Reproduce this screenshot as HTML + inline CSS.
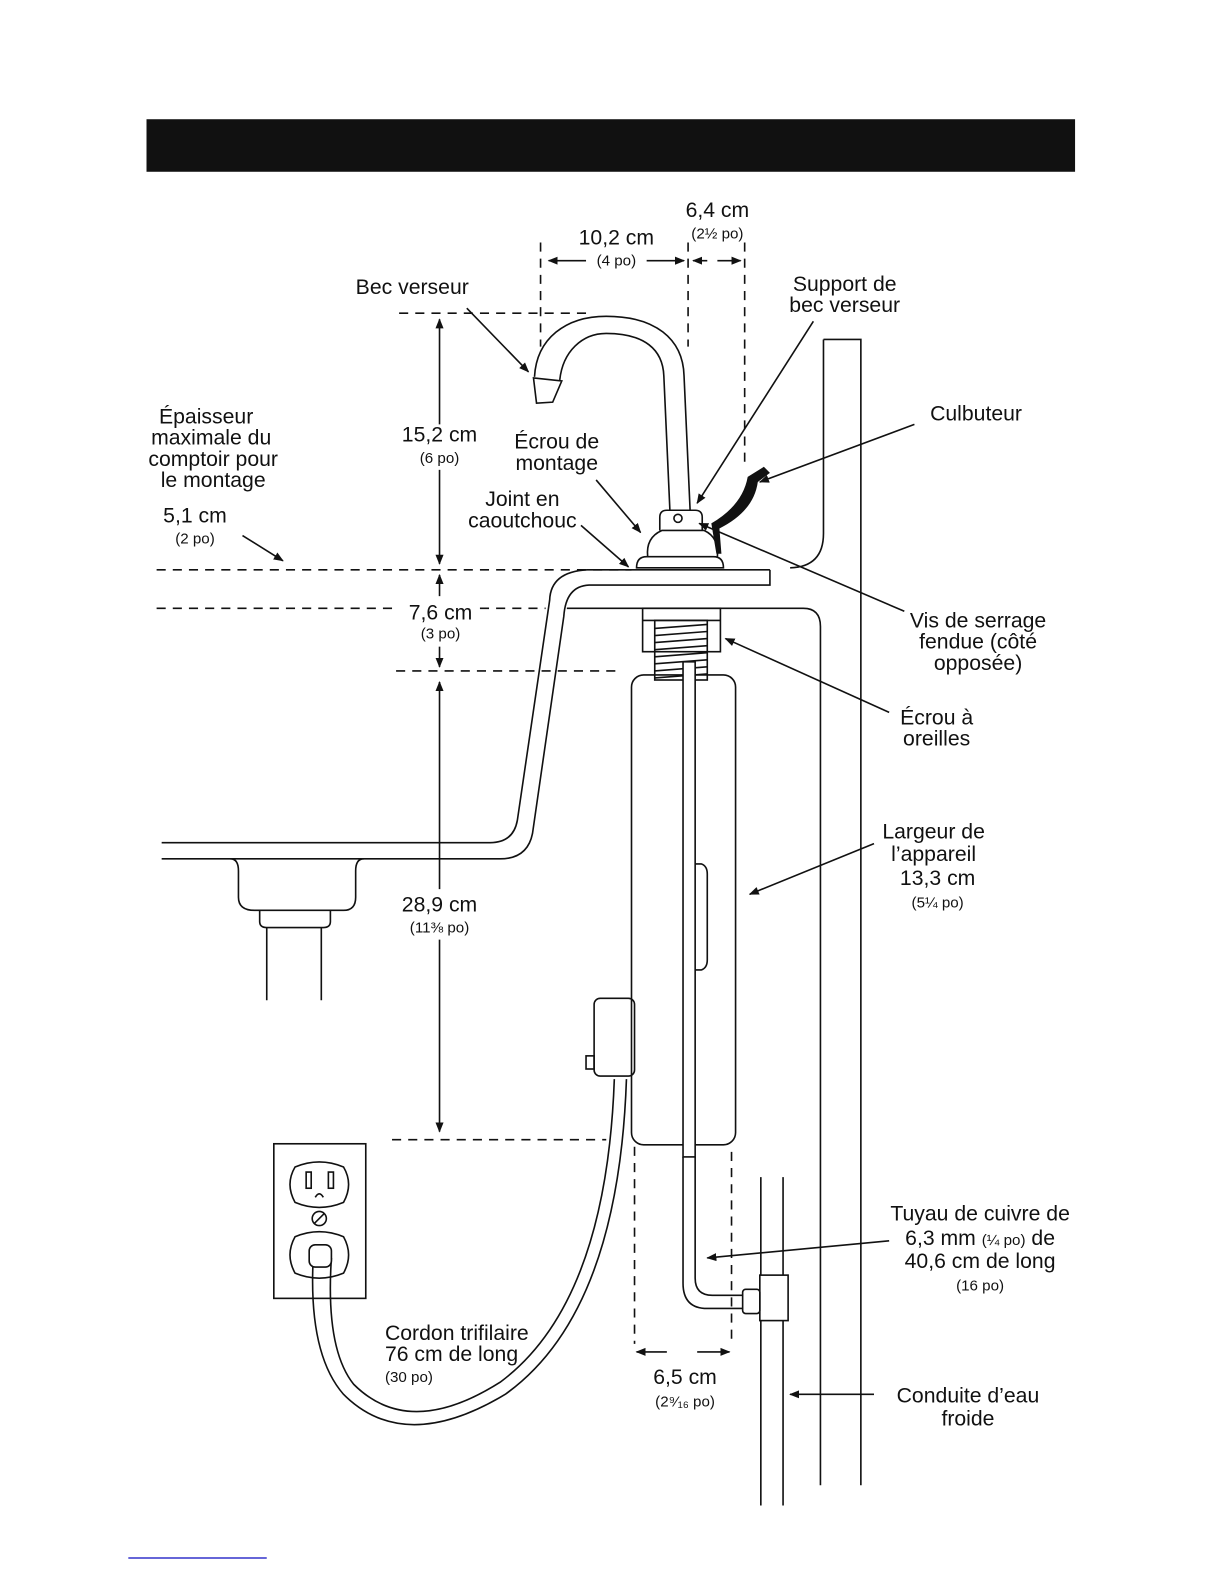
<!DOCTYPE html>
<html><head><meta charset="utf-8"><style>
html,body{margin:0;padding:0;background:#fff;}
svg{display:block;}
text{font-family:"Liberation Sans",Arial,sans-serif;fill:#111;text-anchor:middle;}
.l{font-size:21px;}
.s{font-size:15px;}
</style></head><body>
<svg width="1224" height="1584" viewBox="0 0 1224 1584" xmlns="http://www.w3.org/2000/svg">
<defs>
<marker id="a" markerWidth="10" markerHeight="10" refX="9" refY="5" orient="auto" markerUnits="userSpaceOnUse"><path d="M0,1 L10,5 L0,9 Z" fill="#111"/></marker>
</defs>
<g transform="scale(1.0104)">
<rect x="145" y="118" width="919" height="52" fill="#111"/>
<line x1="127" y1="1542" x2="264" y2="1542" stroke="#33c" stroke-width="1.5"/>

<g stroke="#111" stroke-width="1.6" fill="none">
<g stroke-dasharray="9,7">
<line x1="535" y1="240" x2="535" y2="343"/>
<line x1="681" y1="240" x2="681" y2="343"/>
<line x1="737" y1="240" x2="737" y2="460"/>
<line x1="395" y1="310" x2="580" y2="310"/>
<line x1="155" y1="564" x2="625" y2="564"/>
<line x1="155" y1="602" x2="395" y2="602"/>
<line x1="475" y1="602" x2="540" y2="602"/>
<line x1="392" y1="664" x2="615" y2="664"/>
<line x1="388" y1="1128" x2="600" y2="1128"/>
<line x1="628" y1="1135" x2="628" y2="1330"/>
<line x1="724" y1="1140" x2="724" y2="1330"/>
</g>
<line x1="580" y1="258" x2="543" y2="258" marker-end="url(#a)"/>
<line x1="640" y1="258" x2="677" y2="258" marker-end="url(#a)"/>
<line x1="700" y1="258" x2="686" y2="258" marker-end="url(#a)"/>
<line x1="710" y1="258" x2="733" y2="258" marker-end="url(#a)"/>
<line x1="435" y1="420" x2="435" y2="316" marker-end="url(#a)"/>
<line x1="435" y1="465" x2="435" y2="558" marker-end="url(#a)"/>
<line x1="435" y1="590" x2="435" y2="569" marker-end="url(#a)"/>
<line x1="435" y1="640" x2="435" y2="660" marker-end="url(#a)"/>
<line x1="435" y1="880" x2="435" y2="675" marker-end="url(#a)"/>
<line x1="435" y1="930" x2="435" y2="1120" marker-end="url(#a)"/>
<line x1="660" y1="1338" x2="630" y2="1338" marker-end="url(#a)"/>
<line x1="690" y1="1338" x2="722" y2="1338" marker-end="url(#a)"/>
<line x1="462" y1="305" x2="523" y2="368" marker-end="url(#a)"/>
<line x1="805" y1="318" x2="690" y2="498" marker-end="url(#a)"/>
<line x1="905" y1="420" x2="752" y2="477" marker-end="url(#a)"/>
<line x1="590" y1="475" x2="634" y2="527" marker-end="url(#a)"/>
<line x1="575" y1="520" x2="622" y2="561" marker-end="url(#a)"/>
<line x1="240" y1="530" x2="280" y2="555" marker-end="url(#a)"/>
<line x1="895" y1="605" x2="692" y2="518" marker-end="url(#a)"/>
<line x1="880" y1="705" x2="718" y2="632" marker-end="url(#a)"/>
<line x1="865" y1="835" x2="742" y2="885" marker-end="url(#a)"/>
<line x1="880" y1="1228" x2="700" y2="1245" marker-end="url(#a)"/>
<line x1="865" y1="1380" x2="782" y2="1380" marker-end="url(#a)"/>

<path d="M815,336 L852,336 L852,1470"/>
<path d="M815,336 L815,528 Q815,561 782,562"/>
<path d="M812,620 L812,1470"/>
<path d="M762,564 L581,564 Q545,566 544,594 L512,812 Q508,834 485,834 L160,834"/>
<path d="M762,564 L762,579 L583,579 Q560,580 558,610 L527,825 Q522,850 495,850 L160,850"/>
<path d="M228,850 Q236,850 236,862 L236,888 Q236,901 252,901 L340,901 Q352,901 352,888 L352,862 Q352,850 360,850"/>
<path d="M257,901 L257,912 Q257,918 264,918 L320,918 Q327,918 327,912 L327,901"/>
<line x1="264" y1="918" x2="264" y2="990"/>
<line x1="318" y1="918" x2="318" y2="990"/>
<path d="M561,602 L795,602 Q812,602 812,620"/>
<!-- faucet -->
<path d="M529,373 C531,335 560,313 600,313 C648,313 676,335 677,372 L683,505"/>
<path d="M554,376 C557,348 576,330 600,330 C638,330 656,346 657,372 L663,505"/>
<path d="M528,374 L556,377 L547,398 L531,399 Z"/>
<path d="M653,525 L653,512 Q653,505 660,505 L688,505 Q695,505 695,512 L695,525"/>
<circle cx="671" cy="513" r="4"/>
<path d="M641,551 Q639,532 655,525 L697,525 Q712,532 710,551"/>
<path d="M630,562 Q630,551 640,551 L706,551 Q716,551 716,562 Z"/>
<rect x="636" y="602" width="77" height="43"/>
<line x1="636" y1="614" x2="713" y2="614"/>
<rect x="648" y="614" width="52" height="59"/>
<path d="M648,622 L700,618 M648,629 L700,625 M648,636 L700,632 M648,643 L700,639 M648,650 L700,646 M648,657 L700,653 M648,664 L700,660 M648,671 L700,667"/>
<rect x="625" y="668" width="103" height="465" rx="12"/>
<rect x="676" y="655" width="12" height="490" fill="#fff"/>
<path d="M688,855 L694,855 Q700,857 700,865 L700,950 Q700,958 694,960 L688,960"/>
<rect x="588" y="988" width="40" height="77" rx="6"/>
<rect x="580" y="1045" width="8" height="13"/>
<path d="M676,1145 L676,1270 Q676,1295 700,1295 L735,1295"/>
<path d="M688,1145 L688,1265 Q688,1282 705,1282 L735,1282"/>
<rect x="735" y="1276" width="17" height="24" rx="3"/>
<rect x="752" y="1262" width="28" height="45"/>
<line x1="753" y1="1165" x2="753" y2="1262"/>
<line x1="775" y1="1165" x2="775" y2="1262"/>
<line x1="753" y1="1307" x2="753" y2="1490"/>
<line x1="775" y1="1307" x2="775" y2="1490"/>
<path d="M620,1068 Q612,1300 500,1380 Q400,1440 340,1380 Q305,1340 310,1245"/>
<path d="M608,1068 Q600,1290 495,1368 Q405,1425 350,1370 Q322,1335 328,1245"/>
<rect x="271" y="1132" width="91" height="153"/>
<path d="M292,1155 Q316,1145 340,1155 Q350,1172 340,1190 Q316,1200 292,1190 Q282,1172 292,1155 Z"/>
<rect x="303" y="1160" width="5" height="16"/><rect x="325" y="1160" width="5" height="16"/>
<path d="M312,1185 Q316,1178 320,1185"/>
<circle cx="316" cy="1206" r="7"/><line x1="311" y1="1211" x2="321" y2="1201"/>
<path d="M292,1224 Q316,1214 340,1224 Q350,1242 340,1260 Q316,1270 292,1260 Q282,1242 292,1224 Z"/>
<rect x="306" y="1232" width="22" height="22" rx="6" fill="#fff"/>
</g>
<path d="M756,462 L762,468 L750,477 Q746,506 712,523 L714,548 L709,548 L704,518 Q735,500 740,472 Z" fill="#111"/>

<text class="l" x="710" y="215">6,4 cm</text>
<text class="s" x="710" y="236">(2½ po)</text>
<text class="l" x="610" y="242">10,2 cm</text>
<text class="s" x="610" y="263">(4 po)</text>
<text class="l" x="408" y="291">Bec verseur</text>
<text class="l" x="836" y="288">Support de</text>
<text class="l" x="836" y="309">bec verseur</text>
<text class="l" x="966" y="416">Culbuteur</text>
<text class="l" x="204" y="419">Épaisseur</text>
<text class="l" x="209" y="440">maximale du</text>
<text class="l" x="211" y="461">comptoir pour</text>
<text class="l" x="211" y="482">le montage</text>
<text class="l" x="435" y="437">15,2 cm</text>
<text class="s" x="435" y="458">(6 po)</text>
<text class="l" x="551" y="444">Écrou de</text>
<text class="l" x="551" y="465">montage</text>
<text class="l" x="517" y="501">Joint en</text>
<text class="l" x="517" y="522">caoutchouc</text>
<text class="l" x="193" y="517">5,1 cm</text>
<text class="s" x="193" y="538">(2 po)</text>
<text class="l" x="436" y="613">7,6 cm</text>
<text class="s" x="436" y="632">(3 po)</text>
<text class="l" x="968" y="621">Vis de serrage</text>
<text class="l" x="968" y="642">fendue (côté</text>
<text class="l" x="968" y="663">opposée)</text>
<text class="l" x="927" y="717">Écrou à</text>
<text class="l" x="927" y="738">oreilles</text>
<text class="l" x="924" y="830">Largeur de</text>
<text class="l" x="924" y="852">l’appareil</text>
<text class="l" x="928" y="876">13,3 cm</text>
<text class="s" x="928" y="898">(5¼ po)</text>
<text class="l" x="435" y="902">28,9 cm</text>
<text class="s" x="435" y="923">(11⅜ po)</text>
<text class="l" x="970" y="1208">Tuyau de cuivre de</text>
<text class="l" x="970" y="1232">6,3 mm <tspan class="s">(¼ po)</tspan> de</text>
<text class="l" x="970" y="1255">40,6 cm de long</text>
<text class="s" x="970" y="1277">(16 po)</text>
<text class="l" x="381" y="1326" style="text-anchor:start">Cordon trifilaire</text>
<text class="l" x="381" y="1347" style="text-anchor:start">76 cm de long</text>
<text class="s" x="381" y="1368" style="text-anchor:start">(30 po)</text>
<text class="l" x="678" y="1370">6,5 cm</text>
<text class="s" x="678" y="1392">(2⁹⁄₁₆ po)</text>
<text class="l" x="958" y="1388">Conduite d’eau</text>
<text class="l" x="958" y="1411">froide</text>
</g>
</svg>
</body></html>
